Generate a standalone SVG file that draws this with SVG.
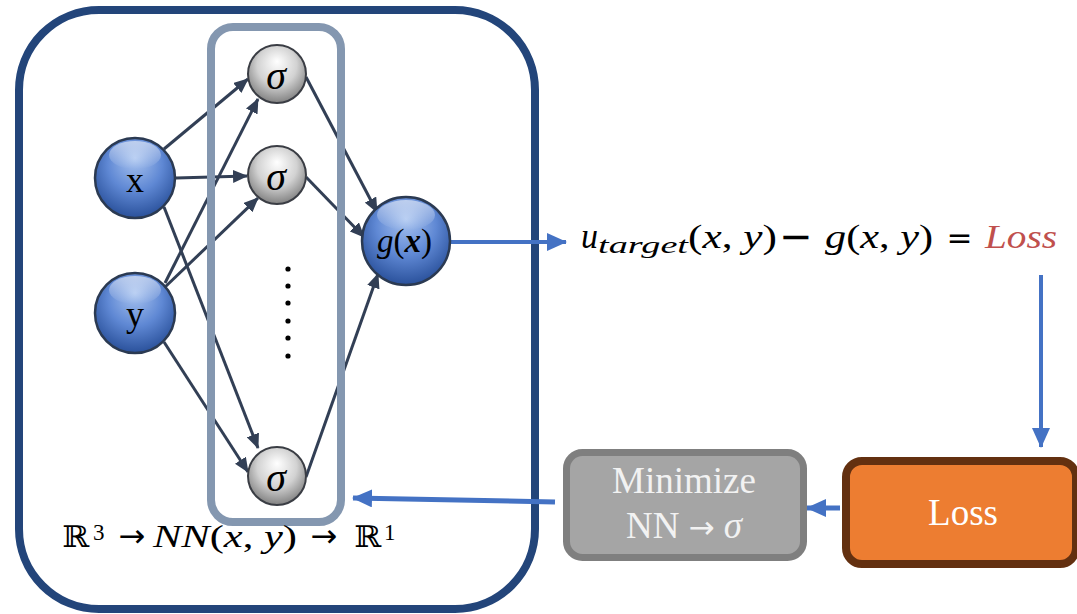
<svg xmlns="http://www.w3.org/2000/svg" width="1077" height="614" viewBox="0 0 1077 614">
<defs>
<radialGradient id="gBlue" cx="50%" cy="38%" r="62%" fx="50%" fy="25%">
<stop offset="0" stop-color="#a9c4f0"/>
<stop offset="0.55" stop-color="#5f88d4"/>
<stop offset="1" stop-color="#2a519b"/>
</radialGradient>
<radialGradient id="gGray" cx="50%" cy="40%" r="62%" fx="50%" fy="28%">
<stop offset="0" stop-color="#ffffff"/>
<stop offset="0.55" stop-color="#d2d2d2"/>
<stop offset="1" stop-color="#7c7c7c"/>
</radialGradient>
<linearGradient id="gShine" x1="0" y1="0" x2="0" y2="1">
<stop offset="0" stop-color="#ffffff" stop-opacity="0.55"/>
<stop offset="1" stop-color="#ffffff" stop-opacity="0"/>
</linearGradient>
<marker id="aDark" viewBox="0 0 15 13" refX="14" refY="6.5" markerWidth="15" markerHeight="13" markerUnits="userSpaceOnUse" orient="auto">
<path d="M0,0 L15,6.5 L0,13 z" fill="#323f55"/>
</marker>
<marker id="aBlue" viewBox="0 0 20 18" refX="19" refY="9" markerWidth="20" markerHeight="18" markerUnits="userSpaceOnUse" orient="auto">
<path d="M0,0 L20,9 L0,18 z" fill="#4472c4"/>
</marker>
</defs>
<style>
.conn{stroke:#323f55;stroke-width:3;fill:none;marker-end:url(#aDark)}
.blue{stroke:#4472c4;fill:none;marker-end:url(#aBlue)}
.bnode{fill:url(#gBlue);stroke:#2b3a52;stroke-width:2.5}
.gnode{fill:url(#gGray);stroke:#3a3d44;stroke-width:2}
.serif{font-family:"Liberation Serif","DejaVu Serif",serif}
.sym{font-family:"DejaVu Sans",sans-serif}
.it{font-style:italic}
.dot{fill:#000}
</style>
<rect id="frame" x="19" y="10" width="516" height="599" rx="80" ry="80" fill="#ffffff" stroke="#23457a" stroke-width="8"/>
<g id="connectors">
<line class="conn" x1="164" y1="149" x2="248" y2="79"/>
<line class="conn" x1="176" y1="178" x2="247" y2="176"/>
<line class="conn" x1="164" y1="207" x2="258" y2="448"/>
<line class="conn" x1="165" y1="283" x2="258" y2="99"/>
<line class="conn" x1="164" y1="288" x2="258" y2="198"/>
<line class="conn" x1="164" y1="342" x2="248" y2="472"/>
<line class="conn" x1="306" y1="77" x2="377" y2="212"/>
<line class="conn" x1="306" y1="177" x2="364" y2="237"/>
<line class="conn" x1="306" y1="477" x2="378" y2="274"/>
<line class="blue" x1="450" y1="242" x2="566" y2="242" stroke-width="4"/>
<line class="blue" x1="1041" y1="275" x2="1041" y2="447" stroke-width="4"/>
<line class="blue" x1="840" y1="508" x2="807" y2="508" stroke-width="5"/>
<line class="blue" x1="555" y1="502" x2="353" y2="498" stroke-width="5"/>
</g>
<rect id="hidden-layer" x="211" y="27" width="130" height="495" rx="22" ry="22" fill="none" stroke="#8497b0" stroke-width="8"/>
<g id="node-x">
<ellipse class="bnode" cx="135" cy="178" rx="40" ry="40"/>
<ellipse cx="135" cy="155" rx="26" ry="14" fill="url(#gShine)"/>
<text class="serif" x="135" y="192" font-size="36" text-anchor="middle" fill="#000">x</text>
</g>
<g id="node-y">
<ellipse class="bnode" cx="135" cy="313" rx="40" ry="40"/>
<ellipse cx="135" cy="290" rx="26" ry="14" fill="url(#gShine)"/>
<text class="serif" x="135" y="326" font-size="36" text-anchor="middle" fill="#000">y</text>
</g>
<g id="sigma-1">
<circle class="gnode" cx="277" cy="74" r="29"/>
<text class="serif it" x="276" y="89" font-size="40" text-anchor="middle">σ</text>
</g>
<g id="sigma-2">
<circle class="gnode" cx="277" cy="175" r="29"/>
<text class="serif it" x="276" y="190" font-size="40" text-anchor="middle">σ</text>
</g>
<g id="sigma-n">
<circle class="gnode" cx="277" cy="476" r="29"/>
<text class="serif it" x="276" y="491" font-size="40" text-anchor="middle">σ</text>
</g>
<g id="ellipsis">
<circle class="dot" cx="288" cy="269" r="2.6"/>
<circle class="dot" cx="288" cy="286" r="2.6"/>
<circle class="dot" cx="288" cy="303" r="2.6"/>
<circle class="dot" cx="288" cy="321" r="2.6"/>
<circle class="dot" cx="288" cy="338" r="2.6"/>
<circle class="dot" cx="288" cy="356" r="2.6"/>
</g>
<g id="node-g">
<ellipse class="bnode" cx="406" cy="241" rx="44" ry="44"/>
<ellipse cx="406" cy="215" rx="29" ry="15" fill="url(#gShine)"/>
<text class="serif" x="377" y="252" font-size="33" fill="#000" textLength="55" lengthAdjust="spacingAndGlyphs"><tspan font-style="italic">g</tspan>(<tspan font-style="italic" font-weight="bold">x</tspan>)</text>
</g>
<g id="formula" class="serif" fill="#000">
<text class="it" x="581" y="248" font-size="36" textLength="17" lengthAdjust="spacingAndGlyphs">u</text>
<text class="it" x="598" y="253" font-size="24" textLength="90" lengthAdjust="spacingAndGlyphs">target</text>
<text x="688" y="248" font-size="34" textLength="89" lengthAdjust="spacingAndGlyphs">(<tspan font-style="italic">x</tspan>, <tspan font-style="italic">y</tspan>)</text>
<text class="sym" x="796" y="250" font-size="40" text-anchor="middle">−</text>
<text x="825" y="248" font-size="34" textLength="108" lengthAdjust="spacingAndGlyphs"><tspan font-style="italic">g</tspan>(<tspan font-style="italic">x</tspan>, <tspan font-style="italic">y</tspan>)</text>
<text class="sym" x="959.5" y="248" font-size="31" text-anchor="middle">=</text>
<text class="it" x="985" y="248" font-size="34" fill="#c0504d" textLength="72" lengthAdjust="spacingAndGlyphs">Loss</text>
</g>
<g id="mapping" class="serif" fill="#000">
<text x="62" y="547" font-size="30" textLength="27" lengthAdjust="spacingAndGlyphs">ℝ</text>
<text x="93" y="540" font-size="23">3</text>
<text class="sym" x="132" y="547" font-size="32" text-anchor="middle">→</text>
<text x="153" y="547" font-size="31" textLength="144" lengthAdjust="spacingAndGlyphs"><tspan font-style="italic">NN</tspan>(<tspan font-style="italic">x</tspan>, <tspan font-style="italic">y</tspan>)</text>
<text class="sym" x="324" y="547" font-size="32" text-anchor="middle">→</text>
<text x="354" y="547" font-size="30" textLength="27" lengthAdjust="spacingAndGlyphs">ℝ</text>
<text x="384" y="540" font-size="23">1</text>
</g>
<g id="minimize">
<rect x="566.5" y="452.5" width="237" height="105" rx="16" ry="16" fill="#a5a5a5" stroke="#7f7f7f" stroke-width="7"/>
<text class="serif" x="684" y="493" font-size="37" text-anchor="middle" fill="#f2f2f2">Minimize</text>
<text class="serif" x="684" y="538" font-size="37" text-anchor="middle" fill="#f2f2f2">NN <tspan class="sym" font-size="31">→</tspan> <tspan font-style="italic">σ</tspan></text>
</g>
<g id="loss">
<rect x="846" y="461" width="230" height="103" rx="16" ry="16" fill="#ed7d31" stroke="#633010" stroke-width="8"/>
<text class="serif" x="963" y="525" font-size="37" text-anchor="middle" fill="#ffffff">Loss</text>
</g>
</svg>
